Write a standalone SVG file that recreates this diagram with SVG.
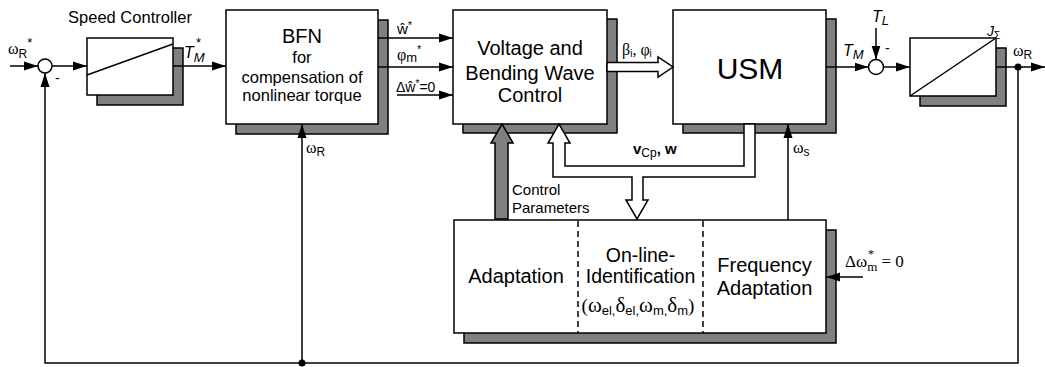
<svg xmlns="http://www.w3.org/2000/svg" width="1045" height="367" viewBox="0 0 1045 367">
<defs>
<marker id="ah" markerUnits="userSpaceOnUse" markerWidth="14" markerHeight="10" refX="14" refY="5" orient="auto"><path d="M0,0.5 L14,5 L0,9.5 z" fill="#000"/></marker>
</defs>
<style>
text{font-family:"Liberation Sans",Arial,sans-serif;fill:#000}
.g{font-family:"Liberation Serif","Times New Roman",serif}
.box{fill:#fff;stroke:#000;stroke-width:1.5}
.sh{fill:#808080;stroke:#000;stroke-width:1.5}
.ln{fill:none;stroke:#000;stroke-width:1.5}
.ar{fill:none;stroke:#000;stroke-width:1.5;marker-end:url(#ah)}
.dash{stroke:#000;stroke-width:1.5;stroke-dasharray:6 4}
.c{text-anchor:middle}
</style>
<rect width="1045" height="367" fill="#fff"/>

<g id="speed-controller">
<rect class="sh" x="97" y="48" width="86" height="57"/>
<rect class="box" x="87" y="38" width="86" height="57"/>
<line class="ln" x1="87" y1="75" x2="173" y2="44"/>
<text class="c" x="130" y="23" font-size="16.5">Speed Controller</text>
</g>

<g id="sum1">
<circle class="box" cx="45" cy="66" r="7"/>
<text x="55" y="83" font-size="14">-</text>
</g>

<g id="bfn">
<rect class="sh" x="236" y="20" width="152" height="114"/>
<rect class="box" x="226" y="10" width="152" height="114"/>
<text class="c" x="302" y="43" font-size="20">BFN</text>
<text class="c" x="302" y="63" font-size="16.5">for</text>
<text class="c" x="302" y="83" font-size="16.5">compensation of</text>
<text class="c" x="302" y="101" font-size="16.5">nonlinear torque</text>
</g>

<g id="vbwc">
<rect class="sh" x="463" y="19" width="154" height="114"/>
<rect class="box" x="453" y="10" width="154" height="114"/>
<text class="c" x="530" y="55" font-size="20">Voltage and</text>
<text class="c" x="530" y="80" font-size="20">Bending Wave</text>
<text class="c" x="530" y="102" font-size="20">Control</text>
</g>

<g id="usm">
<rect class="sh" x="683" y="19" width="153" height="114"/>
<rect class="box" x="673" y="10" width="153" height="114"/>
<text class="c" x="750" y="79" font-size="30">USM</text>
</g>

<g id="sum2">
<circle class="box" cx="876" cy="67" r="7.5"/>
<text x="885" y="53" font-size="14">-</text>
</g>

<g id="integrator">
<rect class="sh" x="920" y="48" width="86" height="58"/>
<rect class="box" x="910" y="38" width="86" height="58"/>
<line class="ln" x1="910" y1="96" x2="996" y2="38"/>
<text x="987" y="36" font-size="14" font-style="italic">J<tspan font-size="10" font-style="normal" dy="3">Σ</tspan></text>
</g>

<g id="lower-block">
<rect class="sh" x="464" y="230" width="372" height="113"/>
<rect class="box" x="454" y="220" width="372" height="113"/>
<line class="dash" x1="578" y1="221" x2="578" y2="333"/>
<line class="dash" x1="703" y1="221" x2="703" y2="333"/>
<text class="c" x="516" y="283" font-size="20">Adaptation</text>
<text class="c" x="640.5" y="262" font-size="19.5">On-line-</text>
<text class="c" x="640.5" y="283" font-size="19.5">Identification</text>
<text class="c" x="638" y="312" font-size="19"><tspan class="g">(</tspan><tspan class="g" font-size="21">ω</tspan><tspan font-size="13" dy="3">el,</tspan><tspan class="g" font-size="21" dy="-3">δ</tspan><tspan font-size="13" dy="3">el,</tspan><tspan class="g" font-size="21" dy="-3">ω</tspan><tspan font-size="13" dy="3">m,</tspan><tspan class="g" font-size="21" dy="-3">δ</tspan><tspan font-size="13" dy="3">m</tspan><tspan class="g" dy="-3">)</tspan></text>
<text class="c" x="764.5" y="272" font-size="20">Frequency</text>
<text class="c" x="764.5" y="295" font-size="20">Adaptation</text>
</g>

<g id="connectors">
<line class="ar" x1="10" y1="66" x2="38" y2="66"/>
<line class="ar" x1="52" y1="66" x2="87" y2="66"/>
<line class="ar" x1="173" y1="66" x2="226" y2="66"/>
<polyline class="ar" points="1018,67 1018,363 45,363 45,73"/>
<line class="ar" x1="302" y1="363" x2="302" y2="124"/>
<circle cx="302" cy="363" r="3.5" fill="#000"/>
<circle cx="1018" cy="67" r="3.5" fill="#000"/>
<line class="ar" x1="378" y1="38" x2="453" y2="38"/>
<line class="ar" x1="378" y1="67" x2="453" y2="67"/>
<line class="ar" x1="397" y1="95" x2="453" y2="95"/>
<polygon class="box" points="607,62.5 658,62.5 658,57 673,67 658,77 658,71.5 607,71.5"/>
<line class="ar" x1="826" y1="67" x2="868.5" y2="67"/>
<line class="ar" x1="876" y1="28" x2="876" y2="59.5"/>
<line class="ar" x1="883.5" y1="67" x2="910" y2="67"/>
<line class="ar" x1="996" y1="67" x2="1045" y2="67"/>
<polygon class="sh" points="495,219 495,143 491,143 502,124 513,143 508,143 508,219"/>
<path class="box" d="M755,124 L755,177 L643,177 L643,200 L648,200 L637,219 L626,200 L632,200 L632,177 L553,177 L553,143 L548,143 L559,124 L570,143 L565,143 L565,166 L744,166 L744,124 Z"/>
<line class="ar" x1="788" y1="220" x2="788" y2="124"/>
<line class="ar" x1="863" y1="277" x2="826" y2="277"/>

<text x="8" y="54" font-size="16"><tspan class="g">ω</tspan><tspan font-size="12" dy="4">R</tspan><tspan font-size="13" dy="-11">*</tspan></text>
<text x="184" y="58" font-size="16" font-style="italic">T<tspan font-size="13" dy="4">M</tspan></text>
<text x="196" y="47" font-size="13">*</text>
<text x="397" y="34" font-size="15">ŵ<tspan font-size="11" dy="-5">*</tspan></text>
<text x="397" y="60" font-size="15"><tspan class="g" font-size="16">φ</tspan><tspan font-size="13" dy="2">m</tspan><tspan font-size="11" dy="-9">*</tspan></text>
<text x="396" y="92" font-size="14">Δŵ<tspan font-size="10" dy="-5">*</tspan><tspan dy="5">=0</tspan></text>
<text x="622" y="55" font-size="16"><tspan class="g">β</tspan><tspan font-size="10" dy="2">i</tspan><tspan class="g" dy="-2">, φ</tspan><tspan font-size="10" dy="2">i</tspan></text>
<text x="843" y="56" font-size="16" font-style="italic">T<tspan font-size="13" dy="3">M</tspan></text>
<text x="872" y="22" font-size="16" font-style="italic">T<tspan font-size="13" dy="3">L</tspan></text>
<text x="1013" y="56" font-size="16"><tspan class="g">ω</tspan><tspan font-size="12" dy="3">R</tspan></text>
<text x="306" y="153" font-size="16"><tspan class="g">ω</tspan><tspan font-size="12" dy="3">R</tspan></text>
<text x="793" y="153" font-size="16"><tspan class="g">ω</tspan><tspan font-size="12" dy="3">s</tspan></text>
<text x="633" y="154" font-size="15" font-weight="bold">v<tspan font-size="12" font-weight="normal" dy="3">Cp</tspan><tspan dy="-3">, w</tspan></text>
<text x="512" y="195" font-size="15">Control</text>
<text x="512" y="213" font-size="15">Parameters</text>
<text class="g" x="845" y="267" font-size="17">Δω<tspan font-size="13" dy="4">m</tspan><tspan font-size="17" dy="-4"> = 0</tspan></text>
<text class="g" x="868" y="258" font-size="12">*</text>
</g>
</svg>
